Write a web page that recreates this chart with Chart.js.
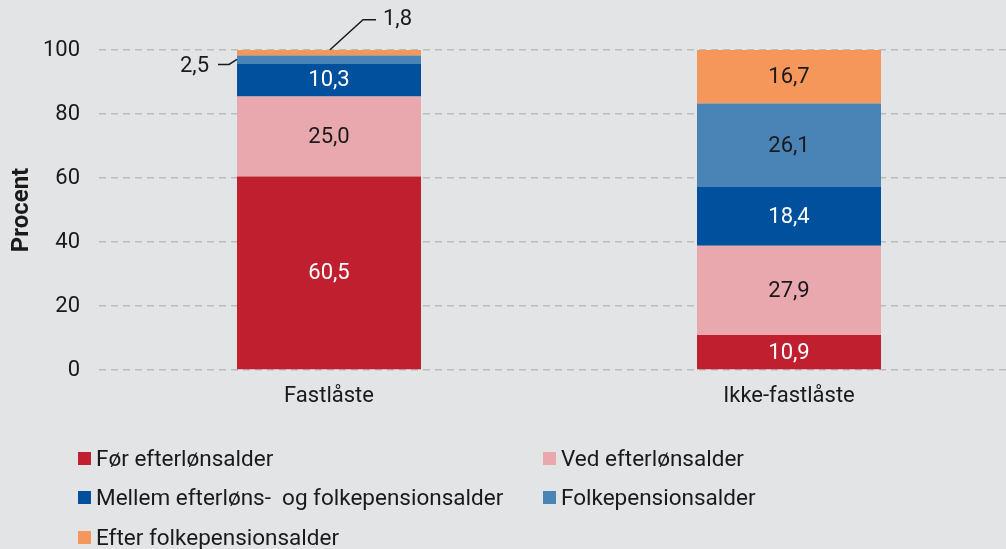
<!DOCTYPE html>
<html>
<head>
<meta charset="utf-8">
<script src="https://cdn.jsdelivr.net/npm/chart.js@4.4.1/dist/chart.umd.min.js"></script>
<style>
  html, body { margin: 0; padding: 0; background: #e3e4e6; overflow: hidden; }
  body { width: 1006px; height: 549px; position: relative; font-family: Roboto, "Noto Sans", sans-serif; }
  #wrap { position: absolute; left: 0; top: 0; width: 1020px; height: 430px; }
  #legend { position: absolute; left: 0; top: 0; width: 1006px; height: 549px; pointer-events: none; }
  .item { position: absolute; display: flex; align-items: center; font-size: 22.5px; color: #1a1a1a; white-space: pre; height: 24px; }
  .sw { width: 13px; height: 13px; margin-right: 5px; }
</style>
</head>
<body>
<div id="wrap"><canvas id="chart"></canvas></div>
<div id="legend"></div>
<script>
const categories = ['Fastlåste', 'Ikke-fastlåste'];
const seriesNames = [
  'Før efterlønsalder',
  'Ved efterlønsalder',
  'Mellem efterløns-  og folkepensionsalder',
  'Folkepensionsalder',
  'Efter folkepensionsalder'
];
const forEfterlon = [60.5, 10.9];
const vedEfterlon = [25.0, 27.9];
const mellem = [10.3, 18.4];
const folkepension = [2.5, 26.1];
const efterFolkepension = [1.8, 16.7];
const yTicks = [0, 20, 40, 60, 80, 100];

const colors = ['#c01f30', '#e8a8ad', '#00509e', '#4a83b5', '#f5975a'];
const labelColors = ['#ffffff', '#1a1a1a', '#ffffff', '#1a1a1a', '#1a1a1a'];
const values = [forEfterlon, vedEfterlon, mellem, folkepension, efterFolkepension];
const FONT = 'Roboto';

function fmt(v) { return v.toFixed(1).replace('.', ','); }

const valueLabels = {
  id: 'valueLabels',
  afterDatasetsDraw(chart) {
    const ctx = chart.ctx;
    ctx.save();
    ctx.font = '22px ' + FONT;
    ctx.textBaseline = 'middle';
    chart.data.datasets.forEach((ds, di) => {
      const meta = chart.getDatasetMeta(di);
      meta.data.forEach((bar, i) => {
        const v = ds.data[i];
        const midY = (bar.y + bar.base) / 2;
        if (v >= 5) {
          ctx.fillStyle = labelColors[di];
          ctx.textAlign = 'center';
          ctx.fillText(fmt(v), bar.x, midY + 1);
          return;
        }
        // small segments get a callout line
        ctx.strokeStyle = '#1a1a1a';
        ctx.lineWidth = 1.5;
        ctx.fillStyle = '#1a1a1a';
        const left = bar.x - bar.width / 2;
        ctx.beginPath();
        if (di === 3) {
          ctx.moveTo(left, midY);
          ctx.lineTo(left - 8, midY + 5);
          ctx.lineTo(left - 19, midY + 5);
          ctx.stroke();
          ctx.textAlign = 'right';
          ctx.fillText(fmt(v), left - 28, midY + 7);
        } else {
          ctx.moveTo(bar.x + 1, bar.y);
          ctx.lineTo(bar.x + 34, bar.y - 30);
          ctx.lineTo(bar.x + 47, bar.y - 30);
          ctx.stroke();
          ctx.textAlign = 'left';
          ctx.fillText(fmt(v), bar.x + 54, bar.y - 30);
        }
      });
    });
    ctx.restore();
  }
};

new Chart(document.getElementById('chart'), {
  type: 'bar',
  data: {
    labels: categories,
    datasets: values.map((d, i) => ({
      label: seriesNames[i],
      data: d,
      backgroundColor: colors[i],
      borderWidth: 0,
      barPercentage: 1,
      categoryPercentage: 0.4
    }))
  },
  options: {
    responsive: true,
    maintainAspectRatio: false,
    animation: false,
    events: [],
    layout: { padding: { top: 50, right: 1, bottom: 0, left: 0 } },
    plugins: { legend: { display: false }, tooltip: { enabled: false } },
    scales: {
      x: {
        stacked: true,
        afterFit(scale) { scale.height = 60; },
        grid: { display: false, drawTicks: false },
        border: { display: false },
        ticks: { color: '#1a1a1a', font: { family: FONT, size: 22 }, padding: 13 }
      },
      y: {
        stacked: true,
        min: 0,
        max: 100,
        afterBuildTicks(scale) { scale.ticks = yTicks.map(v => ({ value: v })); },
        afterFit(scale) { scale.width = 99; },
        grid: { color: '#bcbcbe', lineWidth: 1.5, drawTicks: false },
        border: { display: false, dash: [7, 5] },
        ticks: { color: '#1a1a1a', font: { family: FONT, size: 22 }, padding: 19 },
        title: {
          display: true,
          text: 'Procent',
          color: '#1a1a1a',
          font: { family: FONT, size: 24, weight: 'bold' },
          padding: { top: 8, bottom: 0 }
        }
      }
    }
  },
  plugins: [valueLabels]
});

// legend in two columns like the original
const legendPos = [[78, 458], [543, 458], [78, 497], [543, 497], [78, 537]];
const legendEl = document.getElementById('legend');
seriesNames.forEach((name, i) => {
  const it = document.createElement('div');
  it.className = 'item';
  it.style.left = legendPos[i][0] + 'px';
  it.style.top = (legendPos[i][1] - 12) + 'px';
  it.innerHTML = '<span class="sw" style="background:' + colors[i] + '"></span><span>' + name + '</span>';
  legendEl.appendChild(it);
});
</script>
</body>
</html>
